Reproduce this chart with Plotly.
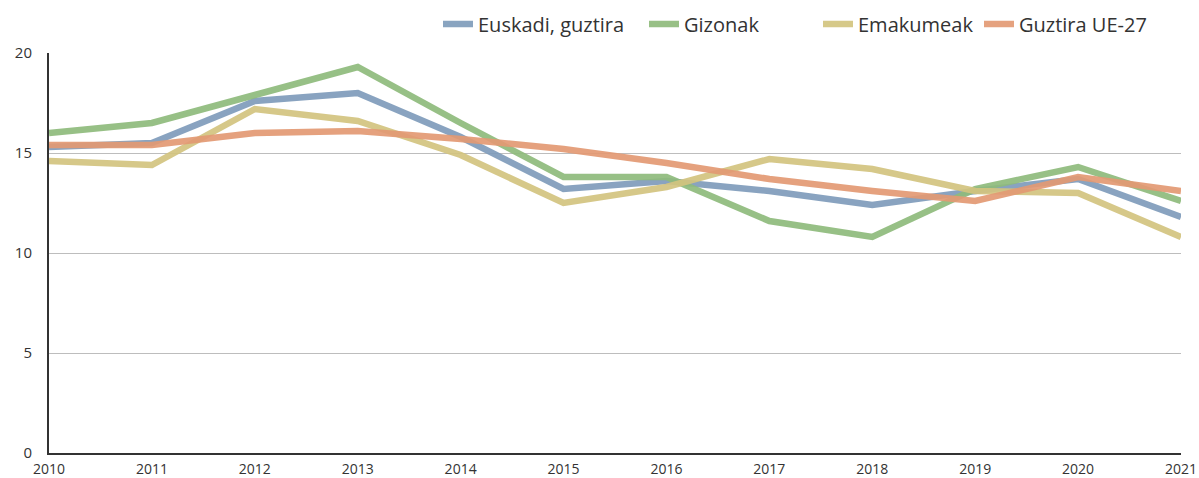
import plotly.graph_objects as go

years = list(range(2010, 2022))
euskadi = [15.3, 15.5, 17.6, 18.0, 15.8, 13.2, 13.6, 13.1, 12.4, 13.1, 13.7, 11.8]
gizonak = [16.0, 16.5, 17.9, 19.3, 16.5, 13.8, 13.8, 11.6, 10.8, 13.2, 14.3, 12.6]
emakumeak = [14.6, 14.4, 17.2, 16.6, 14.9, 12.5, 13.3, 14.7, 14.2, 13.1, 13.0, 10.8]
ue27 = [15.4, 15.4, 16.0, 16.1, 15.7, 15.2, 14.5, 13.7, 13.1, 12.6, 13.8, 13.1]

names = ["Euskadi, guztira", "Gizonak", "Emakumeak", "Guztira UE-27"]
values = [euskadi, gizonak, emakumeak, ue27]
colors = ["#7f9cbb", "#8fbb7c", "#d3c47f", "#e39a74"]
legend_ids = ["legend", "legend2", "legend3", "legend4"]

W, H = 1199, 478
ML, MR, MT, MB = 49, 18, 53, 25
plot_w = W - ML - MR
# legend entry left edges (page pixels)
legend_left_px = [438, 644, 818, 979]

fig = go.Figure()
for name, vals, color, lg in zip(names, values, colors, legend_ids):
    fig.add_trace(go.Scatter(
        x=years, y=vals, name=name, mode="lines",
        line=dict(color=color, width=6.5),
        opacity=0.92, legend=lg,
    ))

font_family = "Open Sans, Lato, sans-serif"
layout_legends = {}
for lg, px in zip(legend_ids, legend_left_px):
    layout_legends[lg] = dict(
        orientation="h",
        x=(px - ML) / plot_w, xanchor="left",
        y=1 - 24 / H, yanchor="middle", yref="container",
        font=dict(size=20, color="#333333", family=font_family),
        bgcolor="rgba(0,0,0,0)", borderwidth=0,
    )

fig.update_layout(
    width=W, height=H,
    margin=dict(l=ML, r=MR, t=MT, b=MB, autoexpand=False),
    paper_bgcolor="white", plot_bgcolor="white",
    font=dict(family=font_family, color="#333333"),
    showlegend=True,
    **layout_legends,
    xaxis=dict(
        range=[2010, 2021], tickmode="array", tickvals=years,
        ticktext=[str(y) for y in years],
        showgrid=False, zeroline=False, automargin=False,
        showline=True, linecolor="#333333", linewidth=2,
        tickfont=dict(size=14, color="#333333"),
        ticks="", ticklabelstandoff=2,
    ),
    yaxis=dict(
        range=[0, 20], tickvals=[0, 5, 10, 15, 20],
        showgrid=True, gridcolor="#bdbdbd", gridwidth=1,
        zeroline=False, automargin=False,
        showline=True, linecolor="#333333", linewidth=2,
        tickfont=dict(size=15, color="#333333"),
        ticks="", ticklabelstandoff=12,
    ),
)

fig.write_html(
    "out.html",
    config={"displayModeBar": False},
    post_script="document.body.style.margin='0';document.body.style.overflow='hidden';",
)
